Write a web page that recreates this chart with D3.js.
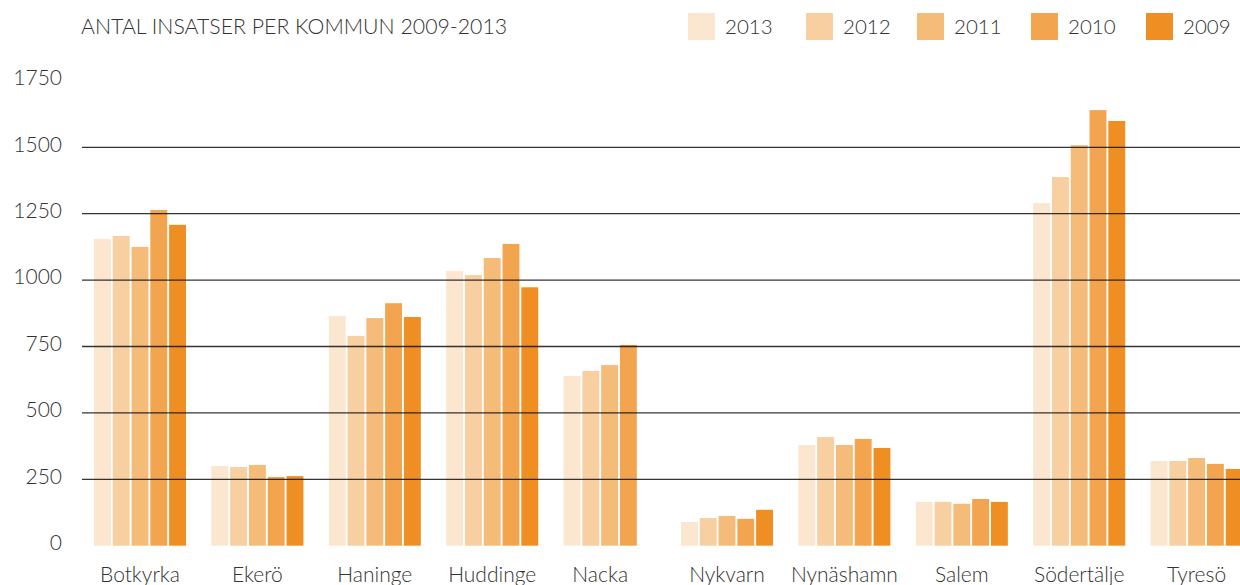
<html>
<head>
<meta charset="utf-8">
<title>Antal insatser per kommun</title>
<script src="https://d3js.org/d3.v7.min.js"></script>
<style>
  body { margin: 0; background: #fff; }
  text { font-family: Lato, "Open Sans", sans-serif; font-weight: 300; fill: #333; }
</style>
</head>
<body>
<svg id="chart" width="1240" height="585"></svg>
<script>
// data
var kommuner = ["Botkyrka", "Ekerö", "Haninge", "Huddinge", "Nacka",
                "Nykvarn", "Nynäshamn", "Salem", "Södertälje", "Tyresö"];
var years = ["2013", "2012", "2011", "2010", "2009"];

var v2013 = [1155, 300, 865, 1034, 639, 89, 379, 165, 1290, 319];
var v2012 = [1166, 296, 790, 1019, 658, 104, 409, 165, 1388, 319];
var v2011 = [1125, 304, 857, 1083, 680, 112, 379, 158, 1508, 330];
var v2010 = [1264, 259, 913, 1136, 756, 101, 402, 176, 1640, 308];
var v2009 = [1208, 262, 861, 973, null, 135, 368, 165, 1599, 289];

var yTicks = [0, 250, 500, 750, 1000, 1250, 1500, 1750];
var gridTicks = [250, 500, 750, 1000, 1250, 1500];
var colors = ["#fbe6cf", "#f8cfa0", "#f5bb78", "#f2a54e", "#ef8f23"];

var series = [v2013, v2012, v2011, v2010, v2009];

var svg = d3.select("#chart");

var x0 = d3.scaleBand()
    .domain(kommuner)
    .range([81.3, 1255.3])
    .paddingInner(0.216)
    .paddingOuter(0.108);

var x1 = d3.scaleBand()
    .domain(years)
    .range([0, x0.bandwidth()])
    .paddingInner(0.1);

var y = d3.scaleLinear()
    .domain([0, 1750])
    .range([545.7, 80.9]);

var color = d3.scaleOrdinal().domain(years).range(colors);

function barsOf(i) {
    return years.map(function(yr, j) { return {year: yr, value: series[j][i]}; })
                .filter(function(e) { return e.value != null; });
}

// bars
var groups = svg.append("g").selectAll("g")
    .data(kommuner)
    .enter().append("g")
    .attr("transform", function(d) { return "translate(" + x0(d) + ",0)"; });

groups.selectAll("rect")
    .data(function(d, i) { return barsOf(i); })
    .enter().append("rect")
    .attr("x", function(d) { return x1(d.year); })
    .attr("y", function(d) { return y(d.value); })
    .attr("width", x1.bandwidth())
    .attr("height", function(d) { return y(0) - y(d.value); })
    .attr("fill", function(d) { return color(d.year); });

// gridlines on top of the bars
svg.append("g").selectAll("line")
    .data(gridTicks)
    .enter().append("line")
    .attr("x1", 82)
    .attr("x2", 1240)
    .attr("y1", function(d) { return y(d); })
    .attr("y2", function(d) { return y(d); })
    .attr("stroke", "#111")
    .attr("stroke-opacity", 0.85)
    .attr("stroke-width", 1.3);

// y labels
var yAxis = svg.append("g")
    .attr("transform", "translate(82,-3)")
    .call(d3.axisLeft(y).tickValues(yTicks).tickFormat(d3.format("d")).tickSize(0).tickPadding(20));
yAxis.select(".domain").remove();
yAxis.selectAll("text")
    .style("font-size", "21px")
    .style("font-family", "Lato, sans-serif")
    .attr("fill", "#333");

// x labels, centred under the bars that are drawn
var xAxis = svg.append("g")
    .attr("transform", "translate(0," + y(0) + ")")
    .call(d3.axisBottom(x0).tickSize(0).tickPadding(21.4));
xAxis.select(".domain").remove();
xAxis.selectAll(".tick")
    .attr("transform", function(d, i) {
        var n = barsOf(i).length;
        var w = x1.step() * n - x1.step() * x1.paddingInner();
        return "translate(" + (x0(d) + w / 2) + ",0)";
    });
xAxis.selectAll("text")
    .style("font-size", "21px")
    .style("font-family", "Lato, sans-serif")
    .attr("fill", "#333");

// title
svg.append("text")
    .attr("x", 81)
    .attr("y", 34)
    .style("font-size", "21.3px")
    .text("ANTAL INSATSER PER KOMMUN 2009-2013");

// legend
var legendX = [688, 806, 917, 1031, 1146];
years.forEach(function(yr, i) {
    svg.append("rect")
        .attr("x", legendX[i]).attr("y", 13)
        .attr("width", 27).attr("height", 27)
        .attr("fill", color(yr));
    svg.append("text")
        .attr("x", legendX[i] + 37)
        .attr("y", 34)
        .style("font-size", "20.5px")
        .text(yr);
});
</script>
</body>
</html>
